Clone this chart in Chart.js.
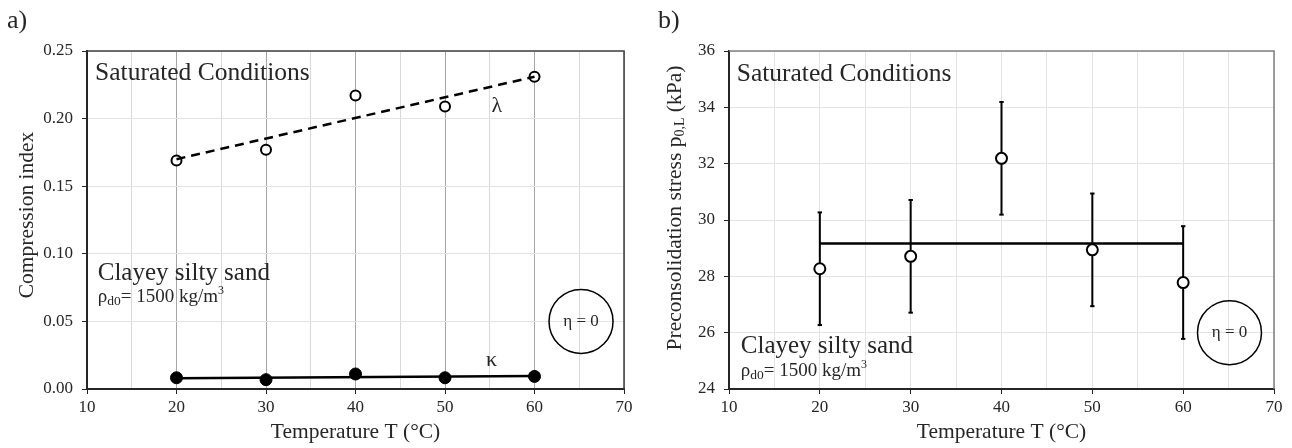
<!DOCTYPE html>
<html>
<head>
<meta charset="utf-8">
<script src="https://cdn.jsdelivr.net/npm/chart.js@4.4.1/dist/chart.umd.min.js"></script>
<style>
  body { margin: 0; background: #fff; }
  #wrap { position: relative; width: 1292px; height: 448px; }
  canvas { position: absolute; top: 0; }
  #chartA { left: 0; }
  #chartB { left: 646px; }
</style>
</head>
<body>
<div id="wrap">
  <canvas id="chartA" width="646" height="448"></canvas>
  <canvas id="chartB" width="646" height="448"></canvas>
</div>
<script>
// values
const temps = [20, 30, 40, 50, 60];
const lambdaVals = [0.169, 0.177, 0.217, 0.209, 0.231];
const kappaVals = [0.0083, 0.0069, 0.0111, 0.0083, 0.0093];
const fitTemps = [20, 60];
const lambdaFit = [0.170, 0.231];
const kappaFit = [0.0079, 0.0097];
const preStress = [28.27, 28.71, 32.19, 28.94, 27.78];
const preErr = [2.0, 2.0, 2.0, 2.0, 2.0];
const preMean = [29.17, 29.17];

// axis ranges / tick steps
const tempAxis = [10, 70, 5];
const indexAxis = [0, 0.25, 0.05];
const stressAxis = [24, 36, 2];

const FONT = 'Liberation Serif';
const INK = '#262626';

function pts(xs, ys) {
    return xs.map((x, i) => ({ x: x, y: ys[i] }));
}

function errBars(xs, ys, es) {
    const out = [];
    xs.forEach((x, i) => {
        out.push({ x: x, y: ys[i] - es[i] }, { x: x, y: ys[i] + es[i] }, { x: x, y: null });
    });
    return out;
}

// text made of pieces: [text, size, dy]
function rich(ctx, parts, x, y, align) {
    let w = 0;
    parts.forEach(p => { ctx.font = p[1] + 'px "' + FONT + '"'; w += ctx.measureText(p[0]).width; });
    let cx = align === 'center' ? x - w / 2 : x;
    ctx.textAlign = 'left';
    ctx.textBaseline = 'alphabetic';
    ctx.fillStyle = INK;
    parts.forEach(p => {
        ctx.font = p[1] + 'px "' + FONT + '"';
        ctx.fillText(p[0], cx, y + (p[2] || 0));
        cx += ctx.measureText(p[0]).width;
    });
}

function makeOptions(yAxis, yFmt, yWidth, padRight, vColor) {
    return {
        responsive: false,
        animation: false,
        layout: { padding: { left: 0, right: padRight, top: 51, bottom: 0 } },
        plugins: { legend: { display: false }, tooltip: { enabled: false } },
        scales: {
            x: {
                type: 'linear',
                min: tempAxis[0], max: tempAxis[1],
                afterFit: s => { s.height = 59; },
                ticks: {
                    stepSize: tempAxis[2], autoSkip: false, maxRotation: 0, padding: 3,
                    color: INK, font: { family: FONT, size: 17 },
                    callback: v => (v % 10 === 0 ? v : '')
                },
                grid: {
                    color: vColor,
                    tickColor: c => (c.tick && c.tick.value % 10 === 0 ? INK : 'rgba(0,0,0,0)'),
                    tickLength: 5, lineWidth: 1
                },
                border: { color: INK, width: 2 }
            },
            y: {
                min: yAxis[0], max: yAxis[1],
                afterFit: s => { s.width = yWidth; },
                ticks: {
                    stepSize: yAxis[2], padding: 9,
                    color: INK, font: { family: FONT, size: 17 },
                    callback: yFmt
                },
                grid: { color: '#e3e3e3', tickColor: INK, tickLength: 5, lineWidth: 1 },
                border: { color: INK, width: 2 }
            }
        }
    };
}

function decorPlugin(frameColor, drawText) {
    return {
        id: 'decor',
        beforeDatasetsDraw(chart) {
            const a = chart.chartArea, ctx = chart.ctx;
            ctx.save();
            ctx.strokeStyle = frameColor;
            ctx.lineWidth = 1.5;
            ctx.beginPath();
            ctx.moveTo(a.left, a.top);
            ctx.lineTo(a.right, a.top);
            ctx.lineTo(a.right, a.bottom);
            ctx.stroke();
            ctx.restore();
        },
        afterDraw(chart) {
            const ctx = chart.ctx;
            ctx.save();
            drawText(chart, ctx, chart.scales.x, chart.scales.y);
            ctx.restore();
        }
    };
}

function etaCircle(ctx, x, y) {
    ctx.strokeStyle = '#000';
    ctx.lineWidth = 1.5;
    ctx.beginPath();
    ctx.arc(x, y, 32, 0, Math.PI * 2);
    ctx.stroke();
    ctx.fillStyle = INK;
    ctx.font = '17px "' + FONT + '"';
    ctx.textAlign = 'center';
    ctx.textBaseline = 'middle';
    ctx.fillText('\u03B7 = 0', x, y);
}

function density(ctx, x, y) {
    rich(ctx, [['\u03C1', 19], ['d0', 13.5, 3], ['= 1500 kg/m', 19], ['3', 12, -8]], x, y, 'left');
}

// panel a
new Chart(document.getElementById('chartA'), {
    type: 'scatter',
    data: {
        datasets: [
            { data: pts(fitTemps, lambdaFit), showLine: true, borderColor: '#000', borderWidth: 2.5, borderDash: [9, 6], pointRadius: 0 },
            { data: pts(fitTemps, kappaFit), showLine: true, borderColor: '#000', borderWidth: 2.5, pointRadius: 0 },
            { data: pts(temps, lambdaVals), pointRadius: 5, pointBorderWidth: 2, pointBackgroundColor: '#fff', pointBorderColor: '#000' },
            { data: pts(temps, kappaVals), pointRadius: 6, pointBorderWidth: 1, pointBackgroundColor: '#000', pointBorderColor: '#000' }
        ]
    },
    options: makeOptions(indexAxis, v => v.toFixed(2), 87, 22,
        c => (c.tick && c.tick.value % 10 === 0 ? '#a6a6a6' : '#d9d9d9')),
    plugins: [decorPlugin('#404040', (chart, ctx, x, y) => {
        const a = chart.chartArea;
        rich(ctx, [['Saturated Conditions', 25.5]], x.getPixelForValue(10.9), y.getPixelForValue(0.2286), 'left');
        rich(ctx, [['Clayey silty sand', 25]], x.getPixelForValue(11.2), y.getPixelForValue(0.0808), 'left');
        density(ctx, x.getPixelForValue(11.2), y.getPixelForValue(0.0647));
        rich(ctx, [['\u03BB', 22]], x.getPixelForValue(55.8), y.getPixelForValue(0.2049), 'center');
        rich(ctx, [['\u03BA', 22]], x.getPixelForValue(55.2), y.getPixelForValue(0.0167), 'center');
        etaCircle(ctx, x.getPixelForValue(65.2), y.getPixelForValue(0.05));
        rich(ctx, [['Temperature T (\u00B0C)', 21.5]], (a.left + a.right) / 2, 438, 'center');
        ctx.translate(33, 215);
        ctx.rotate(-Math.PI / 2);
        rich(ctx, [['Compression index', 21.5]], 0, 0, 'center');
        ctx.setTransform(1, 0, 0, 1, 0, 0);
        rich(ctx, [['a)', 26]], 7, 28, 'left');
    })]
});

// panel b
new Chart(document.getElementById('chartB'), {
    type: 'scatter',
    data: {
        datasets: [
            { data: pts(temps, preStress), pointRadius: 5.5, pointBorderWidth: 2, pointBackgroundColor: '#fff', pointBorderColor: '#000' },
            { data: errBars(temps, preStress, preErr), showLine: true, spanGaps: false, borderColor: '#000', borderWidth: 2,
              pointStyle: 'line', pointRadius: 2.2, pointBorderWidth: 2, pointBorderColor: '#000' },
            { data: pts(fitTemps, preMean), showLine: true, borderColor: '#000', borderWidth: 2.5, pointRadius: 0 }
        ]
    },
    options: makeOptions(stressAxis, v => v, 83, 18, '#e3e3e3'),
    plugins: [decorPlugin('#808080', (chart, ctx, x, y) => {
        const a = chart.chartArea;
        rich(ctx, [['Saturated Conditions', 25.5]], x.getPixelForValue(10.85), y.getPixelForValue(34.95), 'left');
        rich(ctx, [['Clayey silty sand', 25]], x.getPixelForValue(11.3), y.getPixelForValue(25.28), 'left');
        density(ctx, x.getPixelForValue(11.3), y.getPixelForValue(24.45));
        etaCircle(ctx, x.getPixelForValue(65.1), y.getPixelForValue(26.0));
        rich(ctx, [['Temperature T (\u00B0C)', 21.5]], (a.left + a.right) / 2, 438, 'center');
        ctx.translate(35, 208);
        ctx.rotate(-Math.PI / 2);
        rich(ctx, [['Preconsolidation stress p', 21.5], ['0,L', 14, 3], [' (kPa)', 21.5]], 0, 0, 'center');
        ctx.setTransform(1, 0, 0, 1, 0, 0);
        rich(ctx, [['b)', 26]], 12, 28, 'left');
    })]
});
</script>
</body>
</html>
